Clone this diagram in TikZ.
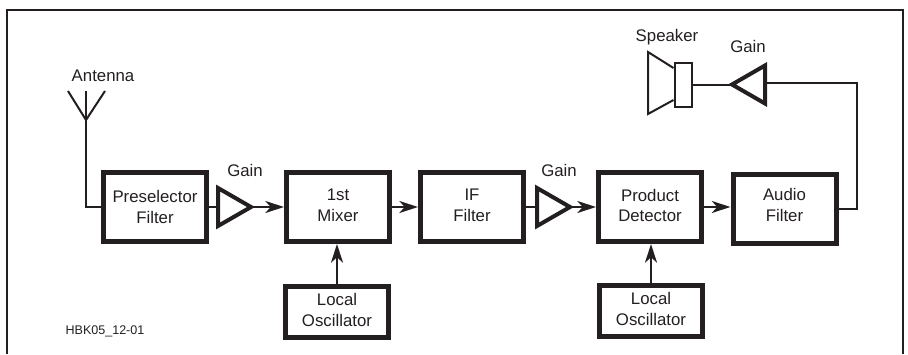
\documentclass[tikz,border=0pt]{standalone}
\usepackage{fontspec}
\setmainfont{Liberation Sans}
\usetikzlibrary{arrows.meta,positioning,calc,shapes.geometric}
\definecolor{ink}{HTML}{231F20}
\tikzset{block/.style={rectangle,draw=ink,line width=3.75pt,minimum width=77.25pt,minimum height=51.75pt,
    align=center,inner sep=0pt,text=ink,text depth=2.2pt,font=\fontsize{12.6}{15.5}\selectfont},
  lo/.style={block,minimum height=38.25pt,text depth=3pt},
  amp/.style={isosceles triangle,isosceles triangle stretches,draw=ink,line width=3pt,
    minimum height=24.75pt,minimum width=28.5pt,inner sep=0pt,outer sep=0pt,anchor=apex},
  lab/.style={text=ink,inner sep=0pt,font=\fontsize{12.6}{15.5}\selectfont},
  wire/.style={draw=ink,line width=1.5pt},
  sig/.style={wire,-{Stealth[length=14pt,width=9pt,inset=4pt]}}}
\begin{document}
\begin{tikzpicture}[x=.75pt,y=-.75pt]
\useasboundingbox (0,0) rectangle (908,354);
% frame, open at the foot
\draw[draw=ink,line width=1.6pt] (7,354)--(7,10)--(903,10)--(903,354);
% signal chain
\node[block,text depth=0pt] (pre) at (155,207) {Preselector\\Filter};
\node[block] (mix) at (338,207) {1st\\Mixer};
\node[block] (iff) at (472,207) {IF\\Filter};
\node[block] (det) at (650,207) {Product\\Detector};
\node[block,text depth=6pt] (aud) at (784.5,209) {Audio\\Filter};
\node[lo] (lo1) at (337,312) {Local\\Oscillator};
\node[lo] (lo2) at (651,311) {Local\\Oscillator};
\node[amp] (amp1) at (251,207) {};
\node[amp] (amp2) at (570,207) {};
\node[amp,shape border rotate=180] (amp3) at (732,84.5) {};
\node[lab] (gain1) at (245,170) {Gain};
\node[lab] (gain2) at (559,170) {Gain};
\node[lab] (gain3) at (748,46) {Gain};
\node[lab] (ant) at (103,76) {Antenna};
\node[lab] (spk) at (667,37) {Speaker};
\node[lab,font=\fontsize{9.4}{11}\selectfont] (tag) at (105,331) {HBK05\_12-01};
% speaker
\node[draw=ink,line width=1.5pt,minimum width=12.75pt,minimum height=33pt,inner sep=0pt] (cone) at (683,84.5) {};
\draw[wire,line join=miter] (cone.north west|-0,68)--(648,52)--(648,114)--(cone.south west|-0,100);
% antenna
\coordinate (tip) at (86,91);
\coordinate (foot) at (86,120);
\draw[wire] (68,91)--(foot)--(105,91);
\draw[wire] (tip)--(foot)|-(pre.west);
% wires
\draw[wire] (pre.east)--(amp1.west);
\draw[sig] (amp1.east)--(mix.west);
\draw[sig] (mix.east)--(iff.west);
\draw[wire] (iff.east)--(amp2.west);
\draw[sig] (amp2.east)--(det.west);
\draw[sig] (det.east)--(aud.west|-det.east);
\draw[sig] (lo1.north)--(lo1.north|-mix.south);
\draw[sig] (lo2.north)--(lo2.north|-det.south);
\coordinate (turn) at (857,82.5);
\draw[wire] (aud.east)-|(turn)--(turn-|amp3.east);
\draw[wire] (amp3.west)--(cone.east);
\end{tikzpicture}
\end{document}
